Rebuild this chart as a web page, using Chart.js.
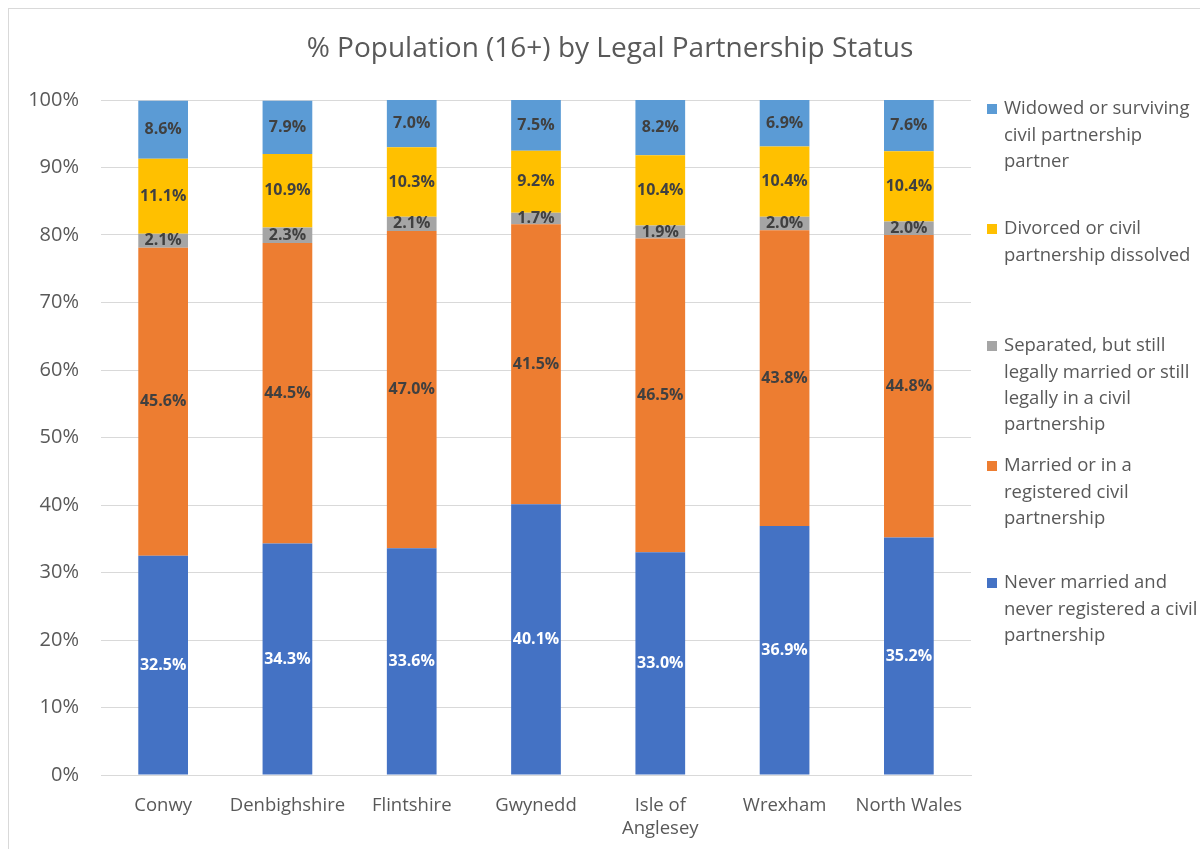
<!DOCTYPE html>
<html>
<head>
<meta charset="utf-8">
<script src="https://cdn.jsdelivr.net/npm/chart.js@4/dist/chart.umd.min.js"></script>
<style>
  html, body { margin: 0; padding: 0; background: #fff; }
  #wrap { position: relative; width: 1200px; height: 849px; }
</style>
</head>
<body>
<div id="wrap"><canvas id="chart" width="1200" height="849"></canvas></div>
<script>
const areas = ['Conwy', 'Denbighshire', 'Flintshire', 'Gwynedd', ['Isle of', 'Anglesey'], 'Wrexham', 'North Wales'];
const neverMarried = [32.5, 34.3, 33.6, 40.1, 33.0, 36.9, 35.2];
const married = [45.6, 44.5, 47.0, 41.5, 46.5, 43.8, 44.8];
const separated = [2.1, 2.3, 2.1, 1.7, 1.9, 2.0, 2.0];
const divorced = [11.1, 10.9, 10.3, 9.2, 10.4, 10.4, 10.4];
const widowed = [8.6, 7.9, 7.0, 7.5, 8.2, 6.9, 7.6];
const yTicks = [0, 10, 20, 30, 40, 50, 60, 70, 80, 90, 100];

const FONT = "'Open Sans', 'Liberation Sans', sans-serif";
const GREY = '#595959';

// legend text broken the way the reference wraps it (top to bottom)
const legendItems = [
  {label: 'Widowed or surviving civil partnership partner', lines: ['Widowed or surviving', 'civil partnership', 'partner'], color: '#5B9BD5', y: 109},
  {label: 'Divorced or civil partnership dissolved', lines: ['Divorced or civil', 'partnership dissolved'], color: '#FFC000', y: 229},
  {label: 'Separated, but still legally married or still legally in a civil partnership', lines: ['Separated, but still', 'legally married or still', 'legally in a civil', 'partnership'], color: '#A5A5A5', y: 346},
  {label: 'Married or in a registered civil partnership', lines: ['Married or in a', 'registered civil', 'partnership'], color: '#ED7D31', y: 466},
  {label: 'Never married and never registered a civil partnership', lines: ['Never married and', 'never registered a civil', 'partnership'], color: '#4472C4', y: 583}
];

const decor = {
  id: 'decor',
  beforeDraw(chart) {
    const ctx = chart.ctx;
    ctx.save();
    ctx.fillStyle = '#fff';
    ctx.fillRect(0, 0, chart.width, chart.height);
    ctx.strokeStyle = '#d9d9d9';
    ctx.lineWidth = 1;
    ctx.strokeRect(8.5, 8.5, 1300, 1000);
    ctx.restore();
  },
  afterDraw(chart) {
    const ctx = chart.ctx;
    ctx.save();
    // title
    ctx.fillStyle = GREY;
    ctx.font = "28px " + FONT;
    ctx.textAlign = 'center';
    ctx.textBaseline = 'middle';
    ctx.fillText('% Population (16+) by Legal Partnership Status', 610, 49);
    // legend
    ctx.textAlign = 'left';
    ctx.font = "18.5px " + FONT;
    legendItems.forEach(item => {
      ctx.fillStyle = item.color;
      ctx.fillRect(987, item.y - 5, 10, 10);
      ctx.fillStyle = GREY;
      item.lines.forEach((ln, i) => ctx.fillText(ln, 1004, item.y + i * 26.3));
    });
    // value labels inside the segments
    ctx.textAlign = 'center';
    ctx.font = "bold 16px " + FONT;
    chart.data.datasets.forEach((ds, di) => {
      const meta = chart.getDatasetMeta(di);
      meta.data.forEach((bar, i) => {
        const mid = (bar.y + bar.base) / 2;
        ctx.fillStyle = di === 0 ? '#ffffff' : '#404040';
        ctx.fillText(ds.data[i].toFixed(1) + '%', bar.x, mid);
      });
    });
    ctx.restore();
  }
};

const series = [
  {label: legendItems[4].label, data: neverMarried, backgroundColor: '#4472C4'},
  {label: legendItems[3].label, data: married, backgroundColor: '#ED7D31'},
  {label: legendItems[2].label, data: separated, backgroundColor: '#A5A5A5'},
  {label: legendItems[1].label, data: divorced, backgroundColor: '#FFC000'},
  {label: legendItems[0].label, data: widowed, backgroundColor: '#5B9BD5'}
];

new Chart(document.getElementById('chart'), {
  type: 'bar',
  data: {
    labels: areas,
    datasets: series.map(s => ({
      ...s,
      borderWidth: 0,
      categoryPercentage: 1,
      barPercentage: 0.4
    }))
  },
  options: {
    responsive: false,
    animation: false,
    layout: {padding: {top: 100, right: 229, left: 0, bottom: 0}},
    plugins: {
      legend: {display: false},
      title: {display: false},
      tooltip: {enabled: false}
    },
    scales: {
      x: {
        stacked: true,
        grid: {display: false},
        border: {color: '#d9d9d9', width: 1},
        ticks: {color: GREY, font: {family: FONT, size: 18.5}, padding: 12, maxRotation: 0},
        afterFit(scale) { scale.height = 74; }
      },
      y: {
        stacked: true,
        min: 0,
        max: 100,
        afterBuildTicks(scale) { scale.ticks = yTicks.map(v => ({value: v})); },
        grid: {color: '#d9d9d9', drawTicks: false},
        border: {display: false},
        ticks: {color: GREY, font: {family: FONT, size: 20}, padding: 22, callback: v => v + '%'},
        afterFit(scale) { scale.width = 101; }
      }
    }
  },
  plugins: [decor]
});
</script>
</body>
</html>
